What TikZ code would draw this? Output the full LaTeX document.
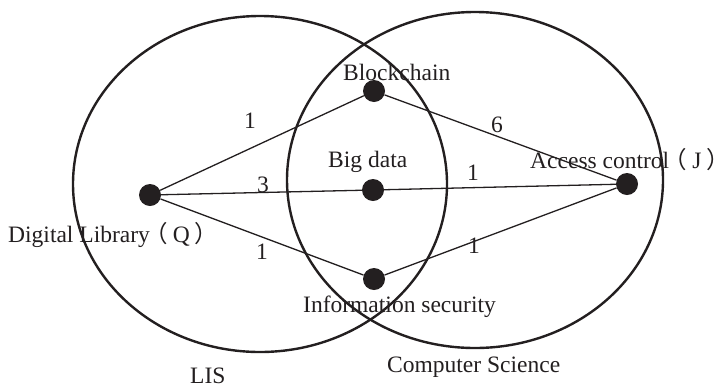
\documentclass[tikz,border=0pt]{standalone}
\usepackage{fontspec}
\setmainfont{Liberation Serif}
\newfontfamily\cjk{Noto Sans CJK SC}
\definecolor{ink}{HTML}{231F20}
\newcommand{\lpar}{\makebox[18bp][r]{\cjk （}\kern5bp}
\newcommand{\rpar}{\kern5bp\makebox[13bp][l]{\cjk ）}}
\begin{document}
\begin{tikzpicture}[x=1bp,y=-1bp,
  ring/.style={draw=ink, line width=2.4bp},
  dot/.style={circle, fill=ink, minimum size=22bp, inner sep=0},
  link/.style={draw=ink, line width=1.3bp},
  txt/.style={text=ink, inner sep=0, font=\fontsize{23.6pt}{28pt}\selectfont}]
\useasboundingbox (0,0) rectangle (725,387);
\draw[ring] (260,184) ellipse [x radius=187, y radius=168];
\draw[ring] (475,180) ellipse [x radius=188, y radius=168];
\node[dot] (q) at (150,195) {};
\node[dot] (b) at (374,91) {};
\node[dot] (d) at (373,190) {};
\node[dot] (s) at (374,279) {};
\node[dot] (j) at (627,184) {};
\draw[link] (q) -- (b);
\draw[link] (q) -- (d);
\draw[link] (q) -- (s);
\draw[link] (b) -- (j);
\draw[link] (d) -- (j);
\draw[link] (s) -- (j);
\node[txt, anchor=base] (w1) at (250,128) {1};
\node[txt, anchor=base] (w2) at (263,192) {3};
\node[txt, anchor=base] (w3) at (497,132) {6};
\node[txt, anchor=base] (w4) at (473,180) {1};
\node[txt, anchor=base] (w5) at (262,259) {1};
\node[txt, anchor=base] (w6) at (474,253) {1};
\node[txt, anchor=base west] (tb) at (343,80) {Blockchain};
\node[txt, anchor=base west] (td) at (328,167) {Big data};
\node[txt, anchor=base west] (tj) at (530,168) {Access control\lpar J\rpar};
\node[txt, anchor=base west] (tq) at (8,242) {Digital Library\lpar Q\rpar};
\node[txt, anchor=base west] (ts) at (303,312) {Information security};
\node[txt, anchor=base west] (tc) at (387,372) {Computer Science};
\node[txt, anchor=base west] (tl) at (190,383) {LIS};
\end{tikzpicture}
\end{document}
